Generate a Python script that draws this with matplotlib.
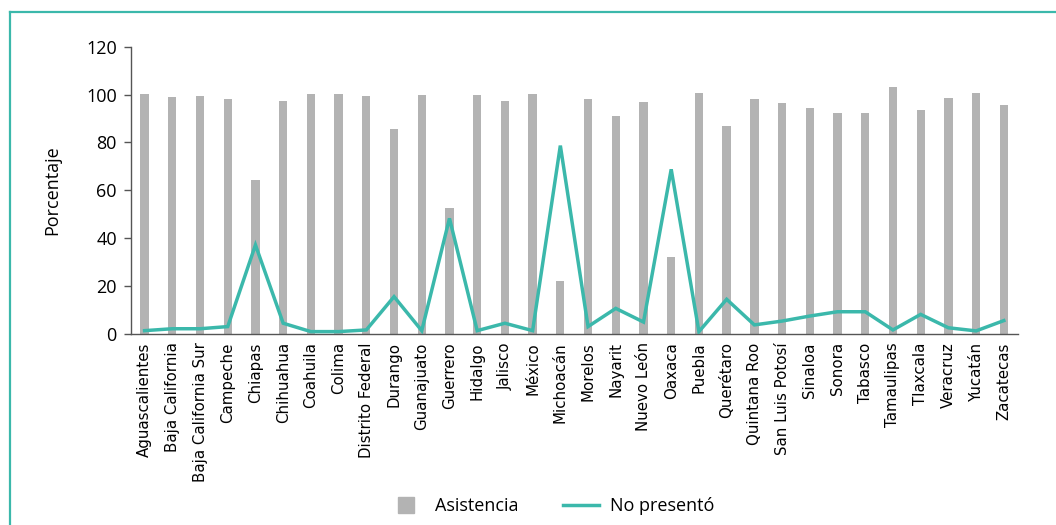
import matplotlib
matplotlib.use("Agg")
import matplotlib.pyplot as plt
from matplotlib.lines import Line2D
import numpy as np

states = [
    "Aguascalientes", "Baja California", "Baja California Sur", "Campeche",
    "Chiapas", "Chihuahua", "Coahuila", "Colima", "Distrito Federal",
    "Durango", "Guanajuato", "Guerrero", "Hidalgo", "Jalisco", "México",
    "Michoacán", "Morelos", "Nayarit", "Nuevo León", "Oaxaca", "Puebla",
    "Querétaro", "Quintana Roo", "San Luis Potosí", "Sinaloa", "Sonora",
    "Tabasco", "Tamaulipas", "Tlaxcala", "Veracruz", "Yucatán", "Zacatecas",
]
asistencia = [
    100.2, 99.0, 99.4, 98.3, 64.2, 97.5, 100.2, 100.2, 99.4, 85.8, 99.8,
    52.5, 99.8, 97.5, 100.2, 22.1, 98.3, 91.2, 97.0, 32.2, 100.8, 87.0,
    98.3, 96.6, 94.5, 92.4, 92.4, 103.3, 93.7, 98.7, 100.8, 95.8,
]
no_presento = [
    1.4, 2.2, 2.2, 3.1, 37.2, 4.5, 1.0, 1.0, 1.7, 15.6, 1.4, 48.3, 1.4,
    4.5, 1.4, 78.7, 3.1, 10.7, 5.0, 68.8, 1.0, 14.5, 3.8, 5.4, 7.5, 9.3,
    9.3, 1.7, 8.2, 2.6, 1.3, 5.6,
]

bar_color = "#b3b3b3"
line_color = "#3bb8ab"
axis_color = "#555555"

fig = plt.figure(figsize=(10.56, 5.25), dpi=100)
ax = fig.add_axes([0.1238, 0.3638, 0.8399, 0.5472])

x = np.arange(len(states))
ax.bar(x, asistencia, width=0.3, color=bar_color, zorder=2)
ax.plot(x, no_presento, color=line_color, lw=2.5, solid_joinstyle="miter", zorder=3)

ax.set_xlim(-0.5, len(states) - 0.5)
ax.set_ylim(0, 120)
ax.set_yticks(range(0, 121, 20))
ax.set_xticks(x)
ax.set_xticklabels(states, rotation=90, fontsize=10.8, family="DejaVu Sans")
ax.tick_params(axis="x", length=0, pad=6)
ax.tick_params(axis="y", length=5, width=1, color=axis_color, labelsize=13, pad=5)
for lbl in ax.get_yticklabels():
    lbl.set_family("Open Sans")

for s in ["top", "right"]:
    ax.spines[s].set_visible(False)
for s in ["left", "bottom"]:
    ax.spines[s].set_color(axis_color)
    ax.spines[s].set_linewidth(1)

ax.set_ylabel("Porcentaje", fontsize=13, family="Open Sans", labelpad=18)

handles = [
    Line2D([], [], ls="none", marker="s", markersize=11, color=bar_color),
    Line2D([], [], color=line_color, lw=2.5),
]
ax.legend(handles, ["Asistencia", "No presentó"], loc="center",
          bbox_to_anchor=(0.474, -0.6), ncol=2, frameon=False,
          prop={"family": "Open Sans", "size": 13}, handlelength=2.0,
          columnspacing=2.5, handletextpad=0.6)

# teal frame around the figure (left and top only visible)
fig.add_artist(Line2D([10 / 1056, 10 / 1056], [0, 1 - 12 / 525],
                      transform=fig.transFigure, color=line_color, lw=1.6))
fig.add_artist(Line2D([10 / 1056, 1], [1 - 12 / 525, 1 - 12 / 525],
                      transform=fig.transFigure, color=line_color, lw=1.6))

fig.savefig("out.png", dpi=100)
